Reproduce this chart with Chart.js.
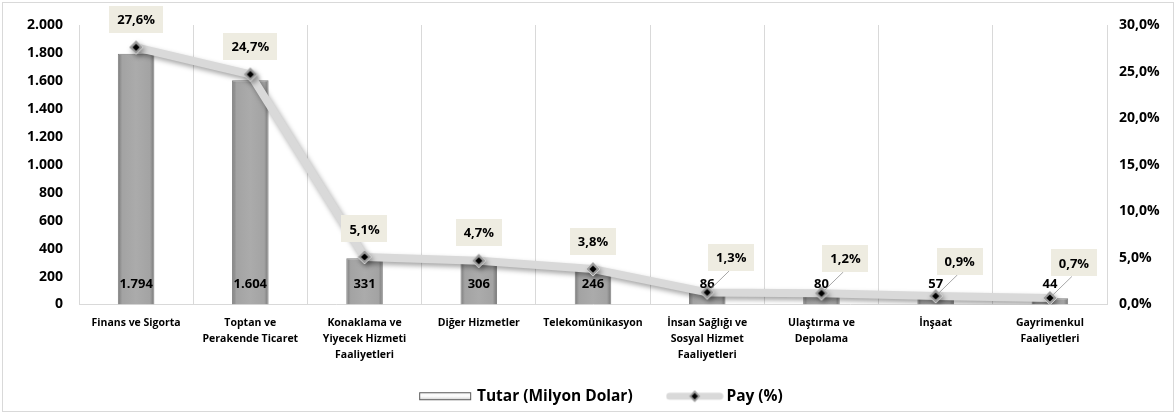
<!DOCTYPE html>
<html><head><meta charset="utf-8">
<script src="https://cdn.jsdelivr.net/npm/chart.js@4"></script>
<style>
html,body{margin:0;padding:0;background:#fff;}
#wrap{position:absolute;left:0;top:0;width:1176px;height:414px;}
#frame{position:absolute;left:2px;top:2px;width:1170px;height:408px;border:1px solid #D9D9D9;pointer-events:none;}
</style></head>
<body>
<div id="wrap"><canvas id="c" width="1176" height="414"></canvas><div id="frame"></div></div>
<script>
const categories = [
  ["Finans ve Sigorta"],
  ["Toptan ve","Perakende Ticaret"],
  ["Konaklama ve","Yiyecek Hizmeti","Faaliyetleri"],
  ["Diğer Hizmetler"],
  ["Telekomünikasyon"],
  ["İnsan Sağlığı ve","Sosyal Hizmet","Faaliyetleri"],
  ["Ulaştırma ve","Depolama"],
  ["İnşaat"],
  ["Gayrimenkul","Faaliyetleri"]
];
const tutar = [1794,1604,331,306,246,86,80,57,44];
const pay = [27.6,24.7,5.1,4.7,3.8,1.3,1.2,0.9,0.7];
const seriesNames = ["Tutar (Milyon Dolar)","Pay (%)"];

const FONT = "'Open Sans', 'Liberation Sans', sans-serif";
const fmtThousands = v => String(v).replace(/\B(?=(\d{3})+(?!\d))/g,'.');
const fmtPct = v => v.toFixed(1).replace('.',',') + '%';

function makeDiamond(size){
  const c=document.createElement('canvas');c.width=size;c.height=size;
  const g=c.getContext('2d');const h=size/2;
  g.beginPath();g.moveTo(h,1);g.lineTo(size-1,h);g.lineTo(h,size-1);g.lineTo(1,h);g.closePath();
  g.fillStyle='#9C9C9C';g.fill();g.strokeStyle='#D0D0D0';g.lineWidth=1;g.stroke();
  const r=h*0.45;
  g.beginPath();g.moveTo(h,h-r);g.lineTo(h+r,h);g.lineTo(h,h+r);g.lineTo(h-r,h);g.closePath();
  g.fillStyle='#000';g.fill();
  return c;
}
const diamond = makeDiamond(16);

function barIcon(){
  const c=document.createElement('canvas');c.width=54;c.height=10;
  const g=c.getContext('2d');
  const gr=g.createLinearGradient(0,0,0,10);
  gr.addColorStop(0,'#F2F2F2');gr.addColorStop(0.5,'#FFFFFF');gr.addColorStop(1,'#BFBFBF');
  g.fillStyle=gr;g.fillRect(1,1,52,8);
  g.strokeStyle='#595959';g.lineWidth=1;g.strokeRect(1.5,1.5,51,7);
  return c;
}
function lineIcon(){
  const c=document.createElement('canvas');c.width=58;c.height=16;
  const g=c.getContext('2d');
  g.strokeStyle='#D9D9D9';g.lineWidth=7;g.lineCap='round';
  g.beginPath();g.moveTo(4,8);g.lineTo(54,8);g.stroke();
  g.drawImage(makeDiamond(14),22,1);
  return c;
}

function barGradient(context){
  const chart=context.chart;
  const xs=chart.scales.x;
  if(!chart.chartArea||!xs) return '#A5A5A5';
  const i=context.dataIndex;
  const cx=xs.getPixelForValue(i);
  const w=(xs.width/categories.length)*0.32;
  const gr=chart.ctx.createLinearGradient(cx-w/2,0,cx+w/2,0);
  gr.addColorStop(0,'#7A7A7A');gr.addColorStop(0.12,'#A3A3A3');
  gr.addColorStop(0.5,'#ABABAB');gr.addColorStop(0.88,'#A3A3A3');gr.addColorStop(1,'#767676');
  return gr;
}

const shadowPlugin={
  id:'shadow',
  beforeDatasetDraw(chart,args){
    if(args.index===1){chart.ctx.save();chart.ctx.shadowColor='rgba(0,0,0,0.35)';chart.ctx.shadowBlur=5;chart.ctx.shadowOffsetX=2;chart.ctx.shadowOffsetY=3;}
  },
  afterDatasetDraw(chart,args){ if(args.index===1) chart.ctx.restore(); }
};

const layoutTweak={
  id:'layoutTweak',
  afterLayout(chart){
    if(chart.legend){chart.legend.left+=14;chart.legend.right+=14;}
    if(chart.scales.x){chart.scales.x.bottom+=14;}
  }
};

const labelPlugin={
  id:'labels',
  afterDatasetsDraw(chart){
    const ctx=chart.ctx;
    const barMeta=chart.getDatasetMeta(0), lineMeta=chart.getDatasetMeta(1);
    ctx.save();
    ctx.font="bold 13px "+FONT;ctx.textAlign='center';ctx.textBaseline='middle';ctx.fillStyle='#000';
    const base=chart.scales.y.getPixelForValue(0);
    barMeta.data.forEach((el,i)=>{
      ctx.fillText(fmtThousands(tutar[i]), el.x, base-20);
    });
    lineMeta.data.forEach((el,i)=>{
      const txt=fmtPct(pay[i]);
      const tw=ctx.measureText(txt).width;
      const bw=tw+16, bh=27;
      let bx=el.x, by=el.y-28;
      if(i>=5){bx=el.x+24;by=el.y-35;}
      if(i>=5){
        ctx.strokeStyle='#A6A6A6';ctx.lineWidth=1;
        ctx.beginPath();ctx.moveTo(bx-2,by+bh/2);ctx.lineTo(el.x+3,el.y-3);ctx.stroke();
      }
      ctx.fillStyle='#EEECE1';
      ctx.fillRect(Math.round(bx-bw/2),Math.round(by-bh/2),Math.round(bw),bh);
      ctx.fillStyle='#000';
      ctx.fillText(txt,bx,by+1);
    });
    ctx.restore();
  }
};

new Chart(document.getElementById('c'),{
  data:{
    labels:categories,
    datasets:[
      {type:'bar',label:seriesNames[0],data:tutar,yAxisID:'y',backgroundColor:barGradient,
       borderColor:'#7F7F7F',borderWidth:1,categoryPercentage:1,barPercentage:0.32,order:2},
      {type:'line',label:seriesNames[1],data:pay,yAxisID:'y1',borderColor:'#D9D9D9',borderWidth:8,
       pointStyle:diamond,pointRadius:8,pointHoverRadius:8,tension:0,order:1,borderJoinStyle:'round'}
    ]
  },
  options:{
    responsive:false,animation:false,devicePixelRatio:1,
    layout:{padding:{top:25,left:0,right:0,bottom:0}},
    plugins:{
      tooltip:{enabled:false},
      legend:{position:'bottom',
        labels:{usePointStyle:true,pointStyleWidth:48,padding:38,color:'#000',
          font:{family:FONT,size:15.5,weight:'bold'},
          generateLabels(){return [
            {text:seriesNames[0],pointStyle:barIcon(),fillStyle:'#fff',strokeStyle:'#fff',lineWidth:0,datasetIndex:0,fontColor:'#000'},
            {text:seriesNames[1],pointStyle:lineIcon(),fillStyle:'#fff',strokeStyle:'#fff',lineWidth:0,datasetIndex:1,fontColor:'#000'}
          ];}
        }}
    },
    scales:{
      x:{grid:{display:true,offset:true,color:'#D9D9D9',drawTicks:false},border:{display:true,color:'#D9D9D9'},
         ticks:{color:'#000',font:{family:FONT,size:10.5,weight:'bold',lineHeight:1.52},padding:11,maxRotation:0,autoSkip:false},
         afterFit(s){s.height=46;}},
      y:{position:'left',min:0,max:2000,grid:{display:false,drawTicks:false},border:{display:false},
         ticks:{stepSize:200,color:'#000',padding:16,font:{family:FONT,size:14,weight:'bold'},callback:v=>fmtThousands(v)},
         afterFit(s){s.width=79;}},
      y1:{position:'right',min:0,max:30,grid:{display:false,drawTicks:false},border:{display:false},
         ticks:{stepSize:5,color:'#000',padding:12,font:{family:FONT,size:14,weight:'bold'},callback:v=>fmtPct(v)},
         afterFit(s){s.width=69;}}
    }
  },
  plugins:[shadowPlugin,labelPlugin,layoutTweak]
});
</script>
</body></html>
